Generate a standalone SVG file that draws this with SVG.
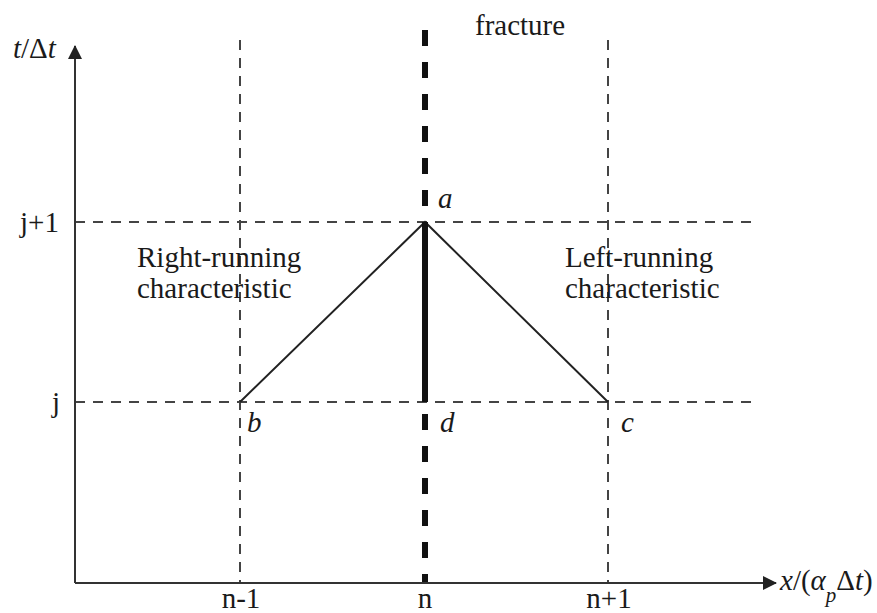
<svg xmlns="http://www.w3.org/2000/svg" width="877" height="613" viewBox="0 0 877 613">
<style>
text{font-family:"Liberation Serif","Times New Roman",serif;font-size:29px;fill:#1a1a1a}
.it{font-style:italic}
.grid{stroke:#444;stroke-width:2;stroke-dasharray:10 8;fill:none}
.axis{stroke:#333;stroke-width:2;fill:none}
.char{stroke:#222;stroke-width:2;fill:none}
.frac{stroke:#111;stroke-width:6;stroke-dasharray:16 16;fill:none}
</style>
<defs>
<marker id="arr" viewBox="0 0 14 14" refX="13" refY="7" markerWidth="14" markerHeight="14" markerUnits="userSpaceOnUse" orient="auto">
<path d="M0,0 L14,7 L0,14 Z" fill="#222"/>
</marker>
</defs>
<g id="grid">
<line class="grid" x1="240" y1="40" x2="240" y2="583"/>
<line class="grid" x1="608" y1="40" x2="608" y2="583"/>
<line class="grid" x1="75" y1="222" x2="752" y2="222"/>
<line class="grid" x1="75" y1="402" x2="752" y2="402"/>
</g>
<g id="fracture">
<line class="frac" x1="425" y1="30" x2="425" y2="583"/>
<text x="475" y="35">fracture</text>
</g>
<g id="axes">
<line class="axis" x1="75" y1="583" x2="75" y2="46" marker-end="url(#arr)"/>
<line class="axis" x1="75" y1="583" x2="776" y2="583" marker-end="url(#arr)"/>
<text x="13" y="58" class="it">t<tspan font-style="normal">/Δ</tspan>t</text>
<text x="780" y="590"><tspan class="it">x</tspan>/(<tspan class="it">α</tspan><tspan class="it" dy="12" font-size="21">p</tspan><tspan dy="-12">Δ</tspan><tspan class="it">t</tspan>)</text>
<text x="20" y="232">j+1</text>
<text x="52" y="412">j</text>
<text x="241" y="608" text-anchor="middle">n-1</text>
<text x="425" y="608" text-anchor="middle">n</text>
<text x="609" y="608" text-anchor="middle">n+1</text>
</g>
<g id="connectors">
<polyline class="char" points="240,402 425,222 608,402"/>
<line x1="425" y1="222" x2="425" y2="402" stroke="#111" stroke-width="6"/>
</g>
<g id="node-a"><text x="438" y="208" class="it">a</text></g>
<g id="node-b"><text x="247" y="432" class="it">b</text></g>
<g id="node-d"><text x="440" y="432" class="it">d</text></g>
<g id="node-c"><text x="621" y="432" class="it">c</text></g>
<g id="label-right"><text x="137" y="267">Right-running</text><text x="137" y="298">characteristic</text></g>
<g id="label-left"><text x="565" y="267">Left-running</text><text x="565" y="298">characteristic</text></g>
</svg>
